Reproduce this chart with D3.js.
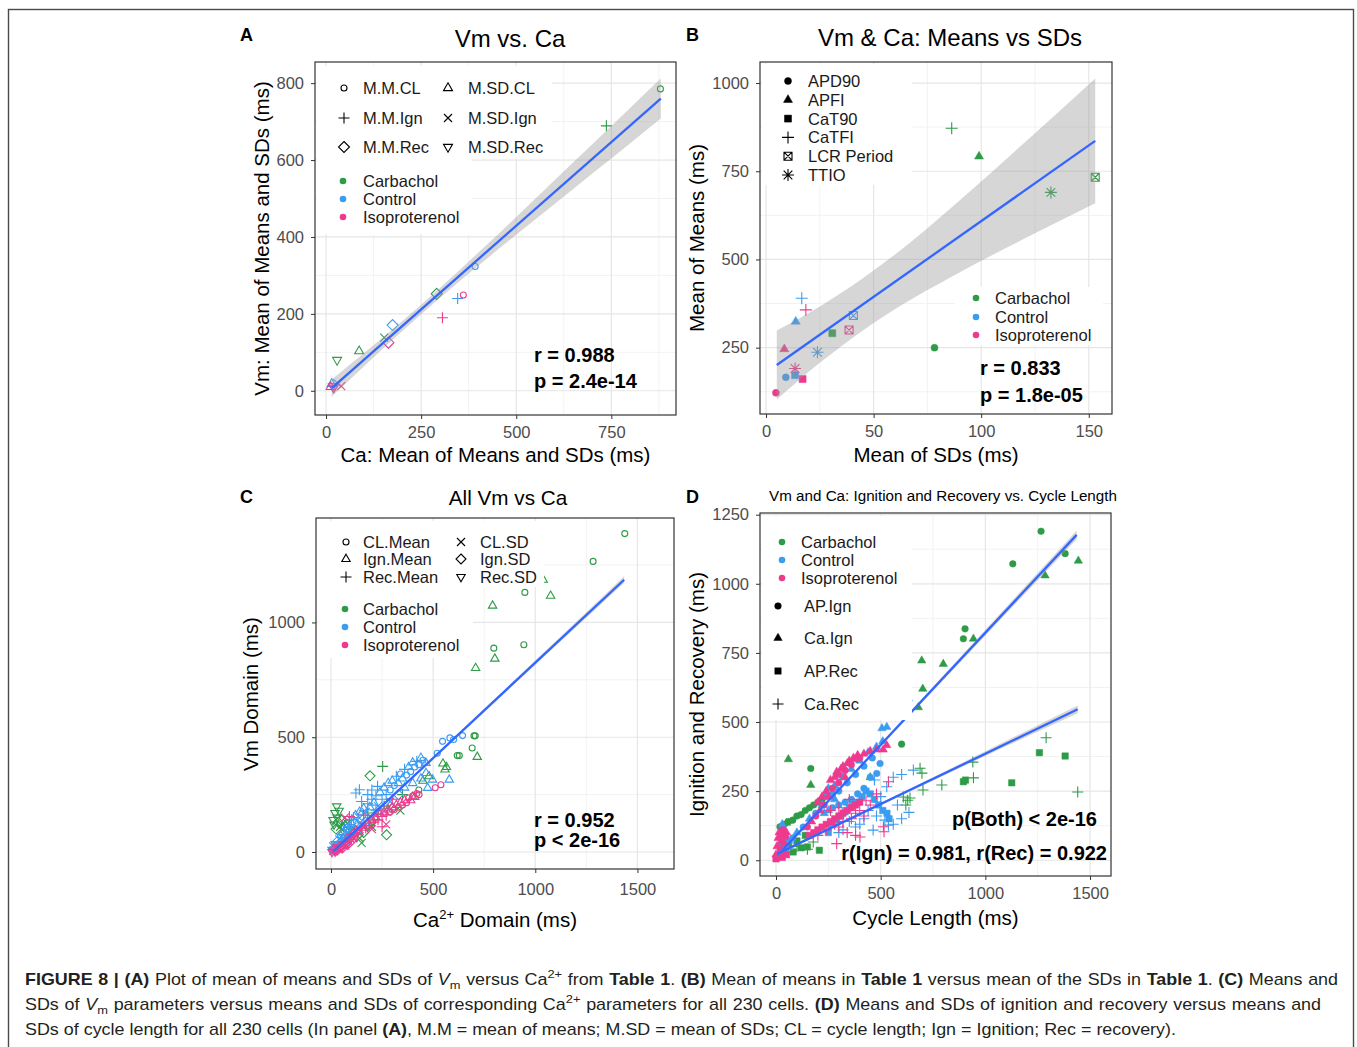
<!DOCTYPE html>
<html><head><meta charset="utf-8">
<script src="https://cdn.jsdelivr.net/npm/d3@7"></script>
<style>body{margin:0;background:#fff}svg{font-family:"Liberation Sans",Arial,sans-serif}text{white-space:pre}</style>
</head><body><svg id="c" width="1357" height="1047"></svg>
<script>
// ---------------- DATA ----------------
const groups = ["Carbachol","Control","Isoproterenol"];
const groupColors = ["#2E9B47","#3B9CF0","#EE3A8E"];

// Panel A: [Ca, Vm, shapeIndex]
const aShapeLabels = ["M.M.CL","M.M.Ign","M.M.Rec","M.SD.CL","M.SD.Ign","M.SD.Rec"];
const aCarbachol = [[879,785,0],[737,689,1],[291,252,2],[87,103,3],[153,138,4],[29,80,5]];
const aControl = [[392,323,0],[346,240,1],[175,171,2],[15,18,3],[30,20,4],[18,12,5]];
const aIsoproterenol = [[361,249,0],[306,190,1],[164,125,2],[12,10,3],[40,12,4],[20,8,5]];
const aFit = [[15,7],[880,760]];
const aBand = [[15,-15,29],[100,64,98],[200,155,181],[300,242,268],[400,325,359],[500,406,452],[600,485,547],[700,565,641],[800,644,736],[880,708,812]];
const aXTicks = [0,250,500,750], aYTicks = [0,200,400,600,800];

// Panel B: [mean of SDs, mean of means, shapeIndex]
const bShapeLabels = ["APD90","APFI","CaT90","CaTFI","LCR Period","TTIO"];
const bCarbachol = [[78.3,250,0],[99,792,1],[30.8,291,2],[86.3,872,3],[153,733,4],[132.4,690,5]];
const bControl = [[9.2,166,0],[13.8,324,1],[13.5,172,2],[16.6,390,3],[40.6,341,4],[23.9,237,5]];
const bIsoproterenol = [[4.6,122,0],[8.5,246,1],[17,161,2],[18.5,357,3],[38.6,300,4],[13.5,191,5]];
const bFit = [[5,201],[153,836]];
const bBand = [[5,103,299],[25,207,367],[45,299,447],[65,378,538],[85,447,641],[105,512,748],[125,574,858],[153,659,1013]];
const bXTicks = [0,50,100,150], bYTicks = [250,500,750,1000];

// Panel C: [Ca domain, Vm domain, shapeIndex]
const cShapeLabels = ["CL.Mean","Ign.Mean","Rec.Mean","CL.SD","Ign.SD","Rec.SD"];
const cCarbachol = [[1438,1387,0],[1283,1266,0],[949,1131,0],[1075,1116,1],[1039,1186,1],[791,1073,1],[797,888,0],[802,842,1],[944,903,0],[708,801,1],[700,506,0],[706,506,0],[691,453,0],[716,414,1],[618,420,0],[628,420,0],[558,359,1],[565,370,1],[548,385,1],[253,373,2],[191,332,4],[28,199,5],[272,75,4],[20,170,5],[40,180,5],[30,150,5],[15,120,5],[25,100,4],[50,140,4],[45,110,3],[60,120,3],[80,125,3],[70,90,4],[100,100,3],[120,90,4],[140,60,3],[160,85,4],[200,110,3],[210,140,2],[230,165,2],[260,200,2],[180,170,2],[300,190,4],[340,180,3],[400,240,1],[450,310,1],[480,330,1],[430,270,0],[350,250,2],[10,140,5],[35,130,4],[55,95,3],[90,60,4],[150,40,3],[180,120,4]];
const cControl = [[5,10,5],[10,25,3],[15,15,4],[20,35,5],[25,20,3],[30,45,4],[35,30,5],[40,55,3],[45,40,4],[50,65,5],[55,50,3],[60,80,4],[65,60,5],[70,90,3],[75,70,4],[80,100,5],[85,80,3],[90,120,2],[95,95,4],[100,140,2],[105,110,3],[110,150,2],[115,125,4],[120,160,1],[122,257,2],[130,140,3],[139,271,2],[140,175,1],[150,160,4],[160,190,1],[170,175,3],[180,210,2],[190,195,1],[200,230,2],[210,215,1],[220,245,2],[228,286,2],[230,200,3],[240,260,1],[250,230,2],[260,280,1],[270,250,2],[280,300,1],[290,270,0],[300,310,1],[310,290,0],[320,330,2],[330,300,1],[340,340,0],[350,320,1],[360,360,2],[370,335,0],[380,370,1],[390,350,0],[400,390,1],[410,370,0],[420,395,2],[430,380,0],[440,410,1],[450,400,0],[465,388,1],[465,344,1],[473,279,1],[497,315,1],[520,430,0],[546,482,0],[579,315,1],[582,497,0],[600,490,0],[644,507,0],[440,320,1],[400,300,1],[360,280,1],[330,250,4],[290,220,3],[260,180,3],[230,170,4],[200,150,3],[170,130,4],[150,120,5],[130,100,3],[110,90,5],[90,70,4],[70,50,3],[60,35,4],[45,25,3],[25,10,4],[150,220,2],[180,250,2],[200,270,2],[220,180,2]];
const cIsoproterenol = [[5,0,5],[10,5,3],[15,10,4],[20,2,5],[25,15,3],[30,8,4],[35,20,5],[40,12,3],[45,25,4],[50,18,5],[55,30,3],[60,22,4],[65,35,5],[70,28,3],[75,40,4],[80,32,5],[85,50,3],[90,40,4],[95,60,3],[100,50,4],[105,70,5],[110,60,3],[115,80,4],[120,70,5],[125,90,3],[130,80,2],[140,100,3],[150,95,2],[160,110,3],[170,105,2],[180,125,1],[190,115,2],[200,140,1],[210,130,2],[220,150,1],[230,140,2],[240,165,1],[250,155,2],[260,175,1],[270,160,2],[280,185,1],[290,175,0],[300,195,1],[310,185,0],[320,205,1],[330,195,0],[340,215,1],[350,205,0],[360,225,1],[370,215,0],[380,235,0],[390,225,1],[400,245,0],[410,240,1],[420,255,0],[431,250,0],[510,280,0],[538,293,0],[90,155,2],[68,150,3],[250,110,2],[270,120,3],[200,100,3],[160,160,2],[300,230,2]];
const cFit = [[11,3],[1435,1186]];
const cBand = [[11,-5,11],[300,239,247],[700,570,582],[1000,816,834],[1435,1173,1201]];
const cXTicks = [0,500,1000,1500], cYTicks = [0,500,1000];

// Panel D: [cycle length, ignition/recovery, shapeIndex]
const dShapeLabels = ["AP.Ign","Ca.Ign","AP.Rec","Ca.Rec"];
const dCarbachol = [[19,121,0],[40,130,0],[60,140,0],[80,145,0],[100,160,0],[120,165,0],[140,180,0],[160,190,0],[180,200,0],[200,210,0],[220,220,0],[242,236,0],[166,332,0],[895,801,0],[903,837,0],[1131,1072,0],[1266,1190,0],[1381,1109,0],[59,365,1],[166,272,1],[30,110,1],[50,135,1],[624,555,1],[680,553,1],[701,620,1],[696,722,1],[799,710,1],[943,801,1],[1285,1030,1],[1444,1083,1],[630,545,0],[600,420,0],[450,300,1],[82,30,2],[120,45,2],[150,48,2],[207,36,2],[60,60,2],[100,70,2],[140,90,2],[895,284,2],[905,290,2],[1126,280,2],[1258,389,2],[1381,377,2],[100,50,3],[150,40,3],[178,66,3],[60,30,3],[608,229,3],[640,225,3],[629,217,3],[688,333,3],[697,315,3],[702,254,3],[792,272,3],[943,298,3],[940,355,3],[1290,443,3],[1441,247,3],[620,200,3]];
const dControl = [[20,60,1],[30,130,1],[40,50,0],[60,70,1],[80,80,0],[100,100,1],[130,120,0],[160,150,1],[190,170,0],[220,200,1],[240,230,0],[250,260,1],[270,240,0],[280,270,1],[300,250,0],[320,300,1],[340,280,0],[360,330,1],[380,310,0],[400,360,1],[420,340,0],[440,390,1],[460,370,0],[480,410,1],[481,314,0],[497,350,0],[510,430,1],[529,482,1],[540,520,1],[560,520,1],[590,532,1],[632,586,1],[506,477,1],[450,300,0],[420,260,0],[390,240,0],[360,220,0],[330,210,0],[300,200,0],[270,190,0],[250,180,1],[230,170,1],[280,220,1],[20,20,2],[40,30,2],[60,40,3],[250,100,2],[270,130,2],[290,145,2],[310,160,2],[330,175,2],[350,190,2],[370,200,2],[390,210,2],[410,230,2],[430,250,2],[450,240,2],[470,220,2],[490,200,2],[510,180,2],[530,170,2],[540,150,2],[480,160,3],[500,230,3],[529,266,3],[560,300,3],[600,310,3],[656,326,3],[560,130,3],[464,109,3],[520,145,3],[635,173,3],[600,150,3],[580,200,3],[440,180,3],[420,150,3],[400,130,3],[380,120,3],[350,140,3],[320,110,3],[300,100,3],[537,127,3],[470,290,3]];
const dIsoproterenol = [[0,20,1],[5,50,1],[10,80,1],[15,100,1],[20,40,0],[25,70,0],[30,90,1],[35,110,0],[40,60,1],[45,85,0],[50,100,1],[10,10,0],[30,20,0],[150,120,0],[170,140,1],[190,160,0],[210,180,1],[230,200,0],[250,230,1],[260,290,1],[280,300,1],[290,320,1],[300,310,0],[310,330,1],[320,340,1],[330,325,0],[340,350,1],[350,360,1],[360,345,0],[370,370,1],[380,365,1],[390,380,1],[400,370,0],[420,385,1],[450,395,1],[480,400,1],[512,400,1],[529,416,1],[270,260,0],[240,250,1],[220,230,1],[200,210,1],[300,280,0],[330,300,1],[0,5,2],[10,15,2],[20,25,3],[30,10,2],[40,30,3],[50,20,2],[160,90,2],[180,100,2],[200,110,2],[220,120,2],[240,130,2],[260,140,2],[280,150,2],[300,160,2],[320,170,2],[340,180,2],[360,190,2],[380,200,2],[400,210,2],[200,90,3],[240,110,3],[280,130,3],[300,120,3],[320,140,3],[340,100,3],[360,150,3],[380,170,3],[400,180,3],[420,160,3],[430,215,3],[450,200,3],[480,240,3],[537,284,3],[513,121,3],[516,103,3],[401,84,3],[380,90,3],[260,180,3],[300,190,3],[350,220,3],[290,60,3]];
const dFitIgn = [[8,18],[1436,1177]];
const dFitRec = [[8,24],[1441,546]];
const dBandIgn = [[8,10,26],[300,251,259],[700,573,587],[1000,813,834],[1436,1161,1193]];
const dBandRec = [[8,17,31],[300,127,134],[700,271,281],[1000,377,394],[1441,532,560]];
const dXTicks = [0,500,1000,1500], dYTicks = [0,250,500,750,1000,1250];

// ---------------- DRAWING ----------------
const svg = d3.select("#c");
const FONT = '"Liberation Sans", Arial, sans-serif';
svg.append("rect").attr("x",8.5).attr("y",9.5).attr("width",1345).attr("height",1050)
  .attr("fill","#fff").attr("stroke","#4a4a4a").attr("stroke-width",1.4);

function sym(t,r){
  switch(t){
    case "circle": return `M${r},0A${r},${r} 0 1,1 ${-r},0A${r},${r} 0 1,1 ${r},0Z`;
    case "tri": return `M0,${-r*1.15}L${r},${r*0.58}L${-r},${r*0.58}Z`;
    case "itri": return `M0,${r*1.15}L${r},${-r*0.58}L${-r},${-r*0.58}Z`;
    case "plus": return `M${-r},0H${r}M0,${-r}V${r}`;
    case "x": return `M${-r},${-r}L${r},${r}M${-r},${r}L${r},${-r}`;
    case "diamond": return `M0,${-r}L${r},0L0,${r}L${-r},0Z`;
    case "square": return `M${-r},${-r}H${r}V${r}H${-r}Z`;
    case "sqx": return `M${-r},${-r}H${r}V${r}H${-r}ZM${-r},${-r}L${r},${r}M${-r},${r}L${r},${-r}`;
    case "star": {const k=r*0.72; return `M${-r},0H${r}M0,${-r}V${r}M${-k},${-k}L${k},${k}M${-k},${k}L${k},${-k}`;}
  }
}
function styleSym(sel, spec, color){
  sel.attr("d",sym(spec.t,spec.r))
    .attr("fill",spec.f?color:"none")
    .attr("stroke",color)
    .attr("stroke-width",spec.f?0.5:1.1);
}

function panel(o){
  const [x0,y0,x1,y1]=o.box;
  const x=d3.scaleLinear().domain(o.xd).range([x0,x1]);
  const y=d3.scaleLinear().domain(o.yd).range([y1,y0]);
  const g=svg.append("g");
  g.append("rect").attr("x",x0).attr("y",y0).attr("width",x1-x0).attr("height",y1-y0).attr("fill","#fff");
  const gr=g.append("g");
  gr.selectAll(".xm").data(o.xm).join("line").attr("x1",d=>x(d)).attr("x2",d=>x(d)).attr("y1",y0).attr("y2",y1).attr("stroke","#F2F2F2").attr("stroke-width",1);
  gr.selectAll(".ym").data(o.ym).join("line").attr("y1",d=>y(d)).attr("y2",d=>y(d)).attr("x1",x0).attr("x2",x1).attr("stroke","#F2F2F2").attr("stroke-width",1);
  gr.selectAll(".xg").data(o.xt).join("line").attr("x1",d=>x(d)).attr("x2",d=>x(d)).attr("y1",y0).attr("y2",y1).attr("stroke","#E6E6E6").attr("stroke-width",1.2);
  gr.selectAll(".yg").data(o.yt).join("line").attr("y1",d=>y(d)).attr("y2",d=>y(d)).attr("x1",x0).attr("x2",x1).attr("stroke","#E6E6E6").attr("stroke-width",1.2);
  const ax=g.append("g").attr("transform",`translate(0,${y1})`)
    .call(d3.axisBottom(x).tickValues(o.xt).tickSize(4).tickPadding(o.xpad||7).tickFormat(d3.format("d")));
  const ay=g.append("g").attr("transform",`translate(${x0},0)`)
    .call(d3.axisLeft(y).tickValues(o.yt).tickSize(4).tickPadding(7).tickFormat(d3.format("d")));
  [ax,ay].forEach(a=>{a.select(".domain").remove();
    a.attr("font-family",FONT).attr("font-size",16.5);
    a.selectAll("line").attr("stroke","#333");
    a.selectAll("text").attr("fill","#4D4D4D");});
  return {g,x,y,box:o.box};
}
function points(p, sets, specs){
  sets.forEach((arr,gi)=>{
    p.g.append("g").selectAll("path").data(arr).join("path")
      .attr("transform",d=>`translate(${p.x(d[0])},${p.y(d[1])})`)
      .each(function(d){styleSym(d3.select(this),specs[d[2]],groupColors[gi]);});
  });
}
function smooth(p, band, fit){
  const area=d3.area().x(d=>p.x(d[0])).y0(d=>p.y(d[1])).y1(d=>p.y(d[2])).curve(d3.curveMonotoneX);
  p.g.append("path").attr("d",area(band)).attr("fill","#999").attr("fill-opacity",0.4);
  const line=d3.line().x(d=>p.x(d[0])).y(d=>p.y(d[1]));
  p.g.append("path").attr("d",line(fit)).attr("stroke","#3366FF").attr("stroke-width",2.3).attr("fill","none");
}
function border(p){
  const [x0,y0,x1,y1]=p.box;
  p.g.append("rect").attr("x",x0).attr("y",y0).attr("width",x1-x0).attr("height",y1-y0).attr("fill","none").attr("stroke","#333").attr("stroke-width",1.2);
}
function whiteBox(p,x,y,w,h){p.g.append("rect").attr("x",x).attr("y",y).attr("width",w).attr("height",h).attr("fill","#fff");}
function legText(p,x,y,t,fs){p.g.append("text").attr("x",x).attr("y",y).attr("dy","0.36em").attr("font-size",fs||16.5).attr("fill","#1A1A1A").text(t);}
function legSym(p,x,y,spec,color){styleSym(p.g.append("path").attr("transform",`translate(${x},${y})`),spec,color);}
function colorLegend(p,dx,tx,ys){
  groups.forEach((gname,i)=>{
    p.g.append("circle").attr("cx",dx).attr("cy",ys[i]).attr("r",3.3).attr("fill",groupColors[i]);
    legText(p,tx,ys[i],gname);
  });
}
function stat(p,x,y,t,anchor){
  p.g.append("text").attr("x",x).attr("y",y).attr("font-size",20).attr("font-weight","bold")
   .attr("text-anchor",anchor||"start").attr("fill","#000").text(t);
}
function title(t,x,y,fs){svg.append("text").attr("x",x).attr("y",y).attr("text-anchor","middle").attr("font-size",fs).attr("fill","#000").text(t);}
function label(t,x,y){svg.append("text").attr("x",x).attr("y",y).attr("font-size",18).attr("font-weight","bold").attr("fill","#000").text(t);}
function xTitle(t,x,y){return svg.append("text").attr("x",x).attr("y",y).attr("text-anchor","middle").attr("font-size",20.5).attr("fill","#000").text(t);}
function yTitle(t,x,y){svg.append("text").attr("transform",`translate(${x},${y}) rotate(-90)`).attr("text-anchor","middle").attr("font-size",20.5).attr("fill","#000").text(t);}

// ---- Panel A ----
const specA=[{t:"circle",r:3},{t:"plus",r:5.5},{t:"diamond",r:5.5},{t:"tri",r:4.5},{t:"x",r:4},{t:"itri",r:4.5}];
const pA=panel({box:[315,62,676,415],xd:[-29,920],yd:[-63,855],xt:aXTicks,xm:[125,375,625,875],yt:aYTicks,ym:[100,300,500,700]});
points(pA,[aCarbachol,aControl,aIsoproterenol],specA);
smooth(pA,aBand,aFit);
stat(pA,534,362,"r = 0.988"); stat(pA,534,388,"p = 2.4e-14");
whiteBox(pA,317,66,235,92); whiteBox(pA,317,158,155,76);
aShapeLabels.forEach((l,i)=>{const c=i<3?0:1, r=i%3; const yy=[88,118,147][r];
  legSym(pA,[344,448][c],yy,specA[i],"#000"); legText(pA,[363,468][c],yy,l);});
colorLegend(pA,343,363,[181,199,217]);
border(pA);
label("A",240,41); title("Vm vs. Ca",510,47,24);
xTitle("Ca: Mean of Means and SDs (ms)",495.5,462); yTitle("Vm: Mean of Means and SDs (ms)",269,238.5);

// ---- Panel B ----
const specB=[{t:"circle",r:3.5,f:1},{t:"tri",r:4.5,f:1},{t:"square",r:3.5,f:1},{t:"plus",r:6},{t:"sqx",r:4},{t:"star",r:6}];
const pB=panel({box:[760,62,1112,414],xd:[-2.8,160.8],yd:[62,1059.6],xt:bXTicks,xm:[25,75,125],yt:bYTicks,ym:[125,375,625,875]});
points(pB,[bCarbachol,bControl,bIsoproterenol],specB);
smooth(pB,bBand,bFit);
stat(pB,980,375,"r = 0.833"); stat(pB,980,402,"p = 1.8e-05");
whiteBox(pB,762,64,150,121); whiteBox(pB,955,287,148,58);
bShapeLabels.forEach((l,i)=>{const yy=81+18.8*i; legSym(pB,788,yy,specB[i],"#000"); legText(pB,808,yy,l);});
colorLegend(pB,976,995,[298,317,335]);
border(pB);
label("B",686,41); title("Vm & Ca: Means vs SDs",950,46,24);
xTitle("Mean of SDs (ms)",936,462); yTitle("Mean of Means (ms)",704,238);

// ---- Panel C ----
const specC=[{t:"circle",r:3},{t:"tri",r:4.2},{t:"plus",r:5.5},{t:"x",r:4},{t:"diamond",r:5},{t:"itri",r:4.2}];
const pC=panel({box:[316,518,674,869],xd:[-73.4,1679],yd:[-74,1455],xt:cXTicks,xm:[250,750,1250],yt:cYTicks,ym:[250,750,1250],xpad:10});
points(pC,[cCarbachol,cControl,cIsoproterenol],specC);
smooth(pC,cBand,cFit);
stat(pC,534,827,"r = 0.952"); stat(pC,534,847,"p < 2e-16");
whiteBox(pC,318,521,226,66); whiteBox(pC,318,587,155,71);
cShapeLabels.forEach((l,i)=>{const c=i<3?0:1, r=i%3; const yy=[542,559,577][r];
  legSym(pC,[346,461][c],yy,specC[i],"#000"); legText(pC,[363,480][c],yy,l);});
colorLegend(pC,345,363,[609,627,645]);
border(pC);
label("C",240,503); title("All Vm vs Ca",508,505,20.7);
const xtc=xTitle("",495,927);
xtc.append("tspan").text("Ca"); xtc.append("tspan").attr("dy",-8).attr("font-size",13).text("2+"); xtc.append("tspan").attr("dy",8).text(" Domain (ms)");
yTitle("Vm Domain (ms)",258,694);

// ---- Panel D ----
const specD=[{t:"circle",r:3.3,f:1},{t:"tri",r:4.2,f:1},{t:"square",r:3.2,f:1},{t:"plus",r:5.5}];
const pD=panel({box:[760,513,1111,876],xd:[-76.4,1600],yd:[-57,1256],xt:dXTicks,xm:[250,750,1250],yt:dYTicks,ym:[125,375,625,875,1125],xpad:7});
points(pD,[dCarbachol,dControl,dIsoproterenol],specD);
smooth(pD,dBandIgn,dFitIgn); smooth(pD,dBandRec,dFitRec);
stat(pD,1097,826,"p(Both) < 2e-16","end"); stat(pD,1107,860,"r(Ign) = 0.981, r(Rec) = 0.922","end");
whiteBox(pD,762,516,150,204);
colorLegend(pD,782,801,[542,560,578]);
dShapeLabels.forEach((l,i)=>{const yy=[606,638,671,704][i]; legSym(pD,778,yy,specD[i],"#000"); legText(pD,804,yy,l);});
border(pD);
label("D",686,503); title("Vm and Ca: Ignition and Recovery vs. Cycle Length",943,501,15.2);
xTitle("Cycle Length (ms)",935.5,925); yTitle("Ignition and Recovery (ms)",704,694.5);

// ---- Caption (wide face: horizontally scaled; first two lines justified) ----
const capLines=[
 [["FIGURE 8 | (A)","b"],[" Plot of mean of means and SDs of ",""],["V","i"],["m","sub"],[" versus Ca",""],["2+","sup"],[" from ",""],["Table 1","b"],[". ",""],["(B)","b"],[" Mean of means in ",""],["Table 1","b"],[" versus mean of the SDs in ",""],["Table 1","b"],[". ",""],["(C)","b"],[" Means and",""]],
 [["SDs of ",""],["V","i"],["m","sub"],[" parameters versus means and SDs of corresponding Ca",""],["2+","sup"],[" parameters for all 230 cells. ",""],["(D)","b"],[" Means and SDs of ignition and recovery versus means and",""]],
 [["SDs of cycle length for all 230 cells (In panel ",""],["(A)","b"],[", M.M = mean of means; M.SD = mean of SDs; CL = cycle length; Ign = Ignition; Rec = recovery).",""]]
];
const capY=[985,1010,1035];
const capRight=[1338,1321,null];
const SX=1.12;
capLines.forEach((line,li)=>{
  const t=svg.append("text").attr("transform",`translate(25,${capY[li]}) scale(${SX},1)`).attr("x",0).attr("y",0)
    .attr("font-size",16).attr("fill","#231F20");
  let shift=0;
  line.forEach(([s,st])=>{
    const ts=t.append("tspan").text(s);
    let target=0;
    if(st==="b") ts.attr("font-weight","bold");
    if(st==="i") ts.attr("font-style","italic");
    if(st==="sub"){ts.attr("font-size",11.5); target=4;}
    if(st==="sup"){ts.attr("font-size",11.5); target=-7;}
    if(target!==shift){ts.attr("dy",target-shift); shift=target;}
  });
  if(capRight[li]){
    const w=t.node().getComputedTextLength();
    const spaces=line.map(d=>d[0]).join("").split(" ").length-1;
    const ws=((capRight[li]-25)/SX-w)/spaces;
    if(ws>0) t.attr("word-spacing",ws);
  }
});
</script></body></html>
